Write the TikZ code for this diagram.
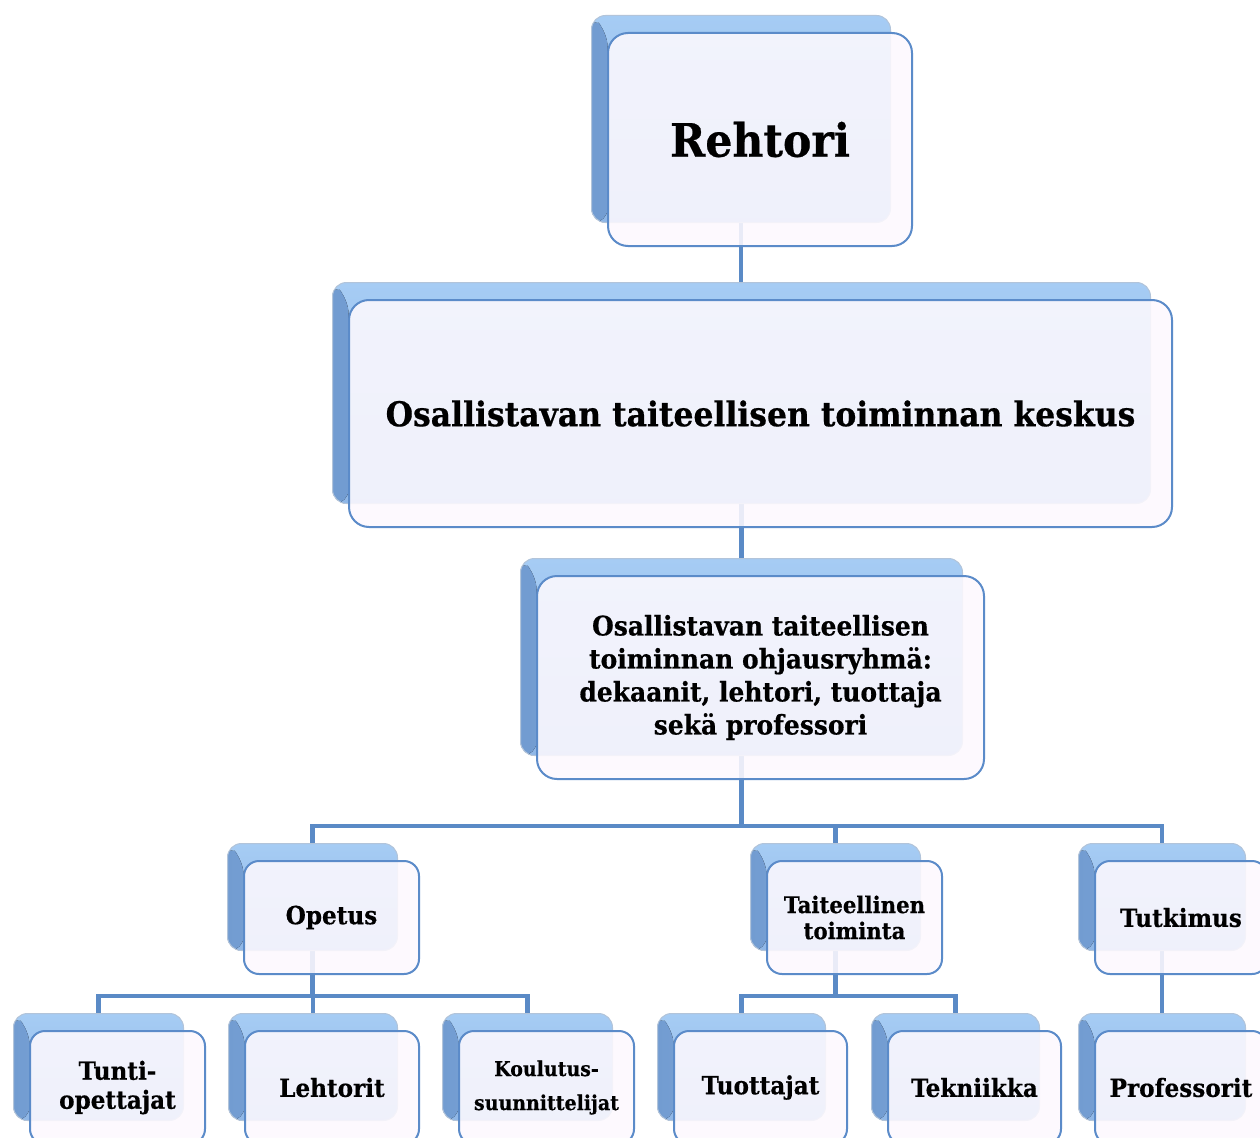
\documentclass[tikz,border=0pt]{standalone}
\usepackage{fontspec}
\setmainfont{DejaVu Serif}[FakeStretch=0.925, FakeBold=0.5]
\pgfdeclarelayer{bg}
\pgfsetlayers{bg,main}
\definecolor{connblue}{HTML}{5A8AC6}
\definecolor{topA}{HTML}{A6CCF4}
\definecolor{topB}{HTML}{8FB7E7}
\definecolor{leftA}{HTML}{729CD1}
\definecolor{leftB}{HTML}{88B0E1}
\definecolor{shedge}{HTML}{B2C4DA}
\definecolor{frontfill}{HTML}{FDF9FE}
\definecolor{frontedge}{HTML}{5B8BC9}
\tikzset{
  conn/.style={draw=connblue, line width=4.5},
  shadowbox/.style={rectangle, rounded corners=14, top color=topA, bottom color=topB,
    draw=shedge, line width=1, inner sep=0, anchor=north west,
    path picture={\fill[left color=leftA, right color=leftB]
      (path picture bounding box.north west) -- ([shift={(16,17)}]path picture bounding box.north west)
      -- ([shift={(16,0)}]path picture bounding box.south west) -- (path picture bounding box.south west) -- cycle;}},
  frontbox/.style={rectangle, rounded corners=15, fill=frontfill, fill opacity=0.88, text opacity=1,
    draw=frontedge, draw opacity=1, line width=2, inner sep=0, anchor=north west, align=center,
    font={\fontsize{25}{29}\selectfont\bfseries}},
  bigbox/.style={rounded corners=20},
}
\newcommand\orgbox[7]{%
  \node[shadowbox, minimum width={(#4-#2)*1pt}, minimum height={(#5-#3)*1pt}] (s#1) at (#2,#3) {};
  \node[frontbox, #6, minimum width={(#4-#2+5)*1pt}, minimum height={(#5-#3+6)*1pt}] (f#1) at (#2+16,#3+17) {#7};
}
\begin{document}
\begin{tikzpicture}[x=1pt, y=-1pt]
\useasboundingbox (0,0) rectangle (1260,1137);
\clip (0,0) rectangle (1260,1137);
\orgbox{R}{591}{15}{890}{222}{bigbox, font={\fontsize{46}{50}\selectfont\bfseries}}{Rehtori}
\orgbox{K}{332}{282}{1150}{503}{bigbox, font={\fontsize{34}{40}\selectfont\bfseries}}{Osallistavan taiteellisen toiminnan keskus}
\orgbox{O}{520}{558}{962}{755}{bigbox, font={\fontsize{27}{33}\selectfont\bfseries}}{Osallistavan taiteellisen\\toiminnan ohjausryhmä:\\dekaanit, lehtori, tuottaja\\sekä professori}
\orgbox{Op}{227}{843}{397}{950}{}{Opetus}
\orgbox{Ta}{750}{843}{920}{950}{font={\fontsize{23}{26}\selectfont\bfseries}}{Taiteellinen\\toiminta}
\orgbox{Tu}{1078}{843}{1245}{950}{}{Tutkimus}
\orgbox{Ti}{13}{1013}{183}{1120}{}{Tunti-\\opettajat}
\orgbox{Le}{228}{1013}{397}{1120}{}{Lehtorit}
\orgbox{Ko}{442}{1013}{612}{1120}{font={\fontsize{20.5}{34}\selectfont\bfseries}}{Koulutus-\\suunnittelijat}
\orgbox{To}{657}{1013}{825}{1120}{}{Tuottajat}
\orgbox{Te}{871}{1013}{1039}{1120}{}{Tekniikka}
\orgbox{Pr}{1078}{1013}{1245}{1120}{}{Professorit}
\coordinate (b1) at (0,826);
\coordinate (b2) at (0,996);
\coordinate (j1) at (sO.center |- b1);
\coordinate (j2) at (sOp.center |- b2);
\coordinate (j3) at (sTa.center |- b2);
\begin{pgfonlayer}{bg}
\fill[white] (0,0) rectangle (1260,1137);
\draw[conn] (sR.center) -- (sR.center |- sK.center);
\draw[conn] (sK.center) -- (sK.center |- sO.center);
\draw[conn] (sO.center) -- (j1) -| (sOp.center);
\draw[conn] (j1) -| (sTa.center);
\draw[conn] (j1) -| (sTu.center);
\draw[conn] (sOp.center) -- (j2) -| (sTi.center);
\draw[conn] (j2) -| (sLe.center);
\draw[conn] (j2) -| (sKo.center);
\draw[conn] (sTa.center) -- (j3) -| (sTo.center);
\draw[conn] (j3) -| (sTe.center);
\draw[conn] (sTu.center) -- (sPr.center);
\end{pgfonlayer}
\end{tikzpicture}
\end{document}
